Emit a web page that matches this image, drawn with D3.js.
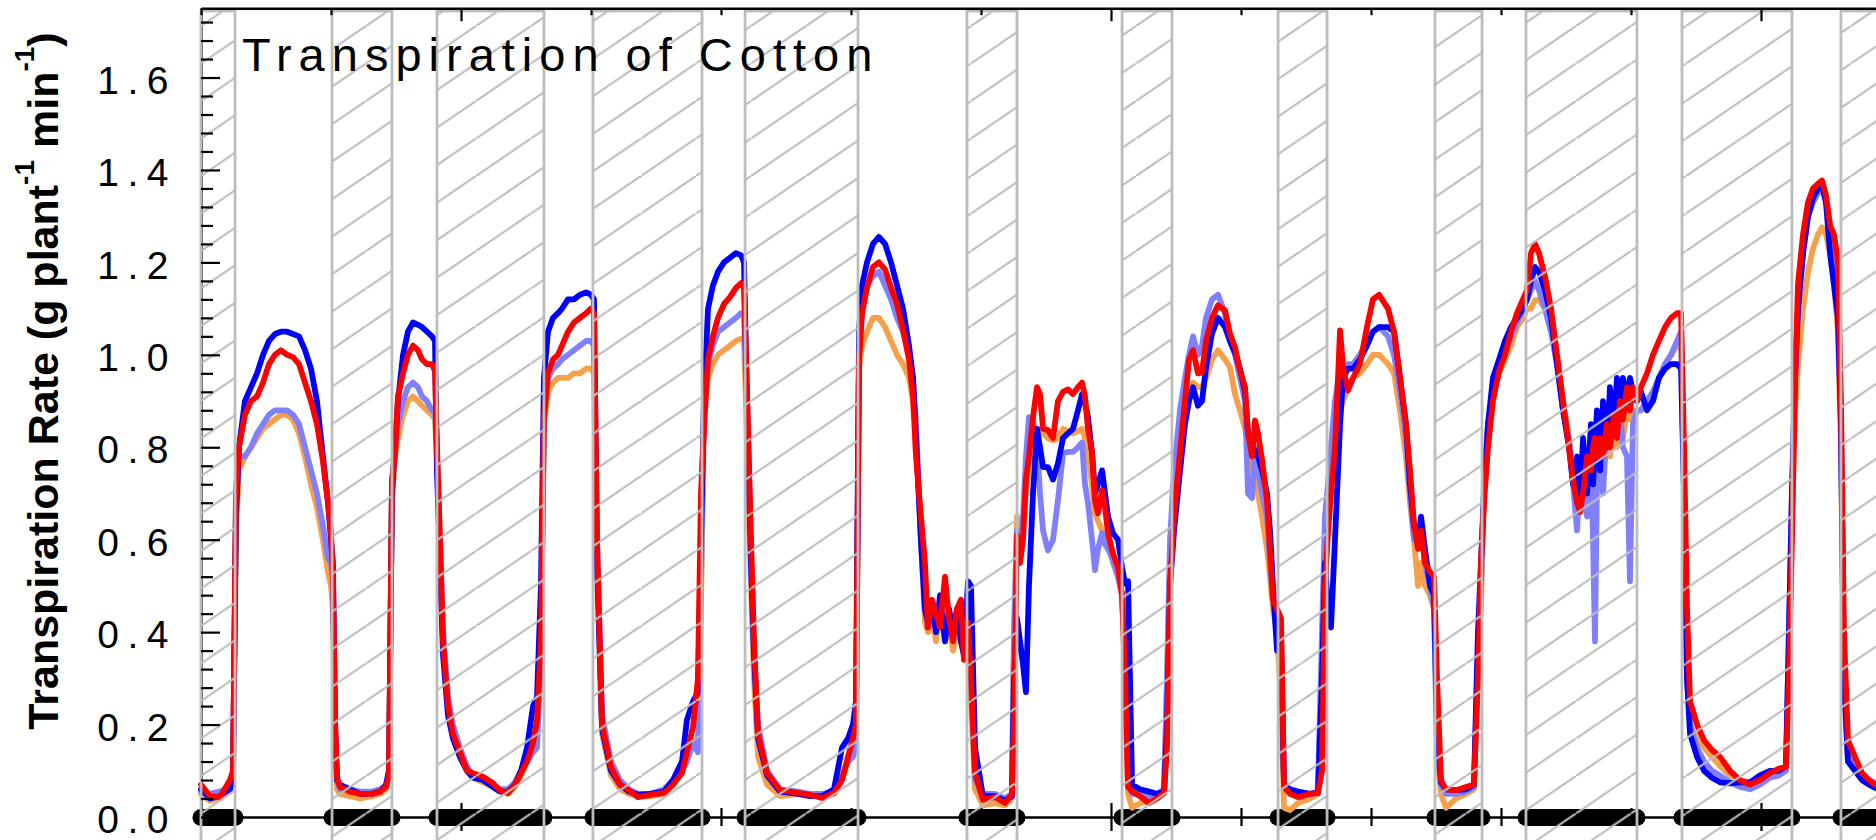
<!DOCTYPE html>
<html>
<head>
<meta charset="utf-8">
<script src="https://cdn.jsdelivr.net/npm/d3@7"></script>
<style>
  html, body { margin: 0; padding: 0; background: #fff; }
  svg { display: block; }
</style>
</head>
<body>
<svg id="chart" width="1876" height="840"></svg>
<script>
// Logger timestamps (day of year, decimal) shared by all four plants
const dayOfYear = [
  148.000,148.069,148.146,148.223,148.246,148.269,
  148.292,148.338,148.385,148.431,148.477,148.523,148.569,148.615,148.662,148.708,148.754,148.800,148.846,148.892,148.938,148.977,149.000,149.015,149.031,149.046,
  149.069,149.146,149.223,149.315,149.377,149.423,149.446,
  149.469,149.492,149.515,149.554,149.592,149.631,149.669,149.700,149.738,149.777,149.800,
  149.815,149.838,149.862,149.900,149.938,149.992,150.046,150.092,150.169,150.246,150.300,150.362,150.415,150.462,150.508,150.554,150.585,150.615,
  150.638,150.669,150.708,150.746,150.777,150.823,150.869,150.915,150.962,151.000,151.023,
  151.046,151.085,151.154,151.223,151.292,151.362,151.454,151.562,151.631,151.700,151.738,151.785,151.823,151.846,
  151.869,151.900,151.938,151.977,152.023,152.069,152.115,152.154,152.177,
  152.192,152.231,152.254,152.285,152.354,152.454,152.592,152.685,152.777,152.869,152.931,152.977,153.015,153.038,
  153.062,153.085,153.123,153.169,153.215,153.262,153.308,153.354,153.400,153.446,153.477,153.500,153.538,153.569,153.592,153.623,153.654,153.685,153.723,153.754,153.785,153.815,153.846,153.869,153.900,153.923,
  153.954,154.015,154.108,154.185,154.238,154.254,
  154.277,154.300,154.323,154.346,154.369,154.400,154.431,154.454,154.477,154.515,154.554,154.592,154.631,154.669,154.708,154.746,154.777,154.800,154.823,154.854,154.877,154.900,154.931,154.954,154.977,155.015,155.054,155.085,155.108,
  155.131,155.162,155.223,155.292,155.354,155.408,155.431,
  155.454,155.485,155.531,155.569,155.600,155.631,155.669,155.700,155.731,155.777,155.823,155.877,155.915,155.954,155.992,156.031,156.054,156.085,156.108,156.131,156.162,156.200,156.223,156.246,156.277,156.308,
  156.331,156.377,156.438,156.531,156.592,156.623,
  156.646,156.669,156.692,156.723,156.762,156.785,156.823,156.862,156.915,156.969,157.015,157.062,157.131,157.177,157.223,157.269,157.300,157.331,157.362,157.385,157.415,157.454,157.485,
  157.508,157.538,157.577,157.654,157.731,157.792,157.823,
  157.846,157.869,157.900,157.938,157.985,158.031,158.077,158.123,158.169,158.200,
  158.231,158.262,158.292,158.338,158.385,158.431,158.477,158.523,158.554,158.585,158.608,158.631,158.662,158.692,158.708,158.723,158.738,158.762,158.785,158.815,158.838,158.869,158.892,158.915,158.938,158.969,158.992,159.015,159.046,
  159.077,159.123,159.169,159.215,159.262,159.308,159.354,159.385,
  159.408,159.431,159.454,159.508,159.562,159.623,159.685,159.762,159.838,159.915,159.992,160.069,160.138,160.192,
  160.215,160.238,160.262,160.285,160.323,160.362,160.400,160.438,160.469,160.500,160.531,160.562,160.592,160.615,
  160.638,160.669,160.723,160.777,160.831,160.900
];

// Transpiration rate, g plant-1 min-1
const plantRed = [
  .07,.045,.043,.08,.10,.70,
  .80,.87,.90,.91,.94,.98,1.00,1.01,1.00,.995,.98,.94,.90,.85,.77,.68,.615,.52,.21,.085,
  .065,.055,.05,.05,.055,.065,.09,
  .73,.78,.91,.96,1.00,1.02,1.01,.99,.98,.98,.965,
  .80,.60,.38,.24,.18,.14,.10,.095,.087,.073,.058,.052,.07,.095,.12,.16,.21,.38,
  .86,.96,.99,1.00,1.02,1.05,1.07,1.08,1.09,1.10,1.09,
  .60,.20,.108,.07,.058,.043,.048,.052,.07,.095,.14,.195,.30,.70,
  .84,.99,1.04,1.08,1.11,1.125,1.145,1.155,1.145,
  1.00,.60,.38,.18,.095,.058,.052,.048,.041,.052,.08,.13,.17,.20,
  .99,1.09,1.145,1.19,1.20,1.185,1.145,1.11,1.055,.99,.91,.78,.65,.55,.41,.47,.44,.41,.52,.43,.38,.45,.47,.34,.42,.30,
  .095,.037,.043,.03,.05,.20,
  .61,.55,.60,.73,.78,.865,.93,.915,.84,.837,.82,.90,.92,.925,.915,.93,.94,.91,.84,.79,.685,.657,.707,.67,.614,.57,.54,.48,.31,
  .065,.055,.045,.03,.04,.052,.15,
  .50,.65,.79,.90,.99,1.01,.96,.962,1.03,1.08,1.107,1.096,1.046,1.016,.966,.93,.83,.78,.858,.83,.772,.685,.577,.47,.45,.43,
  .065,.05,.043,.05,.052,.10,
  .50,.614,.70,.80,1.053,.973,.923,.95,.98,1.06,1.12,1.13,1.10,1.05,.95,.85,.75,.63,.58,.62,.55,.53,.52,
  .30,.08,.06,.058,.065,.07,.30,
  .55,.68,.80,.90,.965,1.00,1.05,1.09,1.12,1.14,
  1.22,1.24,1.22,1.17,1.10,1.00,.90,.80,.73,.68,.66,.70,.78,.75,.80,.82,.78,.82,.78,.85,.80,.87,.82,.90,.86,.93,.88,.93,.90,
  .93,.96,1.00,1.03,1.06,1.08,1.09,1.09,
  .80,.45,.25,.20,.166,.145,.13,.10,.08,.07,.08,.095,.105,.108,
  .30,.60,.95,1.155,1.26,1.33,1.36,1.37,1.377,1.345,1.28,1.26,1.20,.90,
  .40,.166,.13,.095,.08,.065
];

const plantBlue = [
  .06,.04,.045,.06,.09,.65,
  .80,.90,.93,.96,1.00,1.03,1.045,1.05,1.05,1.045,1.04,1.01,.97,.90,.78,.68,.60,.55,.20,.08,
  .07,.06,.05,.05,.055,.07,.10,
  .70,.80,.90,1.00,1.05,1.07,1.065,1.06,1.05,1.04,1.03,
  .75,.55,.35,.22,.17,.13,.10,.085,.08,.065,.055,.055,.07,.10,.15,.24,.26,.50,
  .95,1.05,1.08,1.09,1.10,1.12,1.12,1.13,1.135,1.13,1.12,
  .55,.19,.10,.07,.055,.048,.05,.055,.08,.12,.21,.25,.27,.60,
  .90,1.10,1.15,1.18,1.20,1.21,1.22,1.215,1.20,
  1.00,.55,.35,.17,.09,.055,.05,.045,.045,.06,.15,.17,.20,.25,
  1.05,1.15,1.20,1.24,1.255,1.24,1.20,1.15,1.10,1.02,.95,.82,.60,.45,.42,.46,.40,.48,.38,.45,.40,.45,.38,.35,.51,.50,
  .15,.045,.045,.035,.045,.30,
  .43,.38,.33,.27,.50,.70,.84,.80,.757,.757,.73,.765,.82,.83,.84,.88,.915,.895,.865,.787,.70,.72,.75,.70,.65,.614,.60,.54,.505,
  .51,.07,.06,.055,.05,.055,.20,
  .50,.62,.75,.85,.90,.93,.89,.90,.973,1.046,1.08,1.06,1.03,1.005,.97,.92,.83,.80,.794,.78,.75,.70,.62,.50,.36,.38,
  .07,.06,.055,.05,.052,.30,
  .55,.45,.41,.60,.85,.95,.97,.97,.99,1.02,1.05,1.06,1.06,1.05,.95,.85,.72,.63,.60,.65,.58,.50,.48,
  .20,.075,.06,.058,.06,.07,.40,
  .55,.70,.85,.95,.99,1.03,1.06,1.08,1.10,1.12,
  1.16,1.19,1.18,1.14,1.08,.98,.88,.80,.72,.78,.68,.82,.70,.85,.72,.80,.88,.75,.90,.80,.93,.84,.95,.88,.95,.90,.95,.92,.90,
  .92,.88,.90,.95,.97,.98,.98,.97,
  .70,.30,.18,.13,.10,.085,.075,.073,.075,.075,.09,.10,.10,.11,
  .40,.70,.95,1.10,1.22,1.30,1.34,1.36,1.37,1.33,1.22,1.15,1.08,.85,
  .30,.12,.10,.08,.07,.06
];

const plantLightBlue = [
  .055,.05,.055,.065,.09,.68,
  .78,.78,.80,.83,.85,.87,.88,.88,.88,.87,.85,.80,.75,.70,.63,.56,.55,.50,.20,.08,
  .06,.06,.055,.055,.06,.065,.10,
  .72,.80,.85,.90,.93,.94,.93,.91,.90,.88,.88,
  .80,.60,.40,.26,.20,.15,.11,.09,.08,.07,.06,.06,.075,.10,.12,.14,.15,.35,
  .88,.95,.97,.98,.99,1.00,1.01,1.02,1.03,1.03,1.02,
  .60,.22,.12,.08,.06,.05,.05,.06,.08,.10,.12,.16,.14,.50,
  .90,.98,1.02,1.05,1.06,1.07,1.08,1.09,1.09,
  .95,.55,.35,.20,.10,.06,.055,.05,.05,.055,.09,.12,.13,.15,
  1.00,1.10,1.15,1.17,1.18,1.15,1.12,1.08,1.05,1.00,.95,.85,.60,.45,.42,.45,.40,.46,.39,.44,.40,.44,.40,.38,.40,.30,
  .08,.05,.05,.04,.05,.40,
  .62,.55,.65,.78,.865,.86,.80,.70,.62,.577,.60,.685,.787,.79,.79,.80,.81,.72,.68,.60,.534,.58,.614,.59,.58,.556,.52,.48,.35,
  .08,.05,.05,.045,.05,.06,.30,
  .60,.75,.88,.95,1.0,1.04,1.0,1.02,1.08,1.12,1.13,1.09,1.03,1.0,.95,.90,.70,.69,.80,.75,.70,.65,.55,.47,.42,.36,
  .07,.055,.05,.05,.055,.40,
  .65,.72,.80,.90,.97,.96,.98,.98,1.00,1.03,1.05,1.06,1.04,1.00,.92,.82,.70,.60,.60,.62,.55,.50,.45,
  .15,.07,.05,.05,.055,.065,.35,
  .50,.72,.85,.92,.97,1.00,1.04,1.07,1.10,1.12,
  1.14,1.16,1.14,1.10,1.05,.98,.88,.82,.72,.62,.75,.70,.65,.78,.60,.38,.72,.80,.70,.85,.82,.88,.85,.88,.80,.78,.51,.85,.88,
  .88,.90,.92,.95,.98,1.00,1.03,1.05,
  .70,.30,.20,.15,.12,.10,.09,.075,.065,.06,.07,.085,.09,.10,
  .40,.70,.95,1.10,1.22,1.30,1.33,1.35,1.36,1.33,1.28,1.22,1.10,.85,
  .30,.14,.11,.09,.08,.07
];

const plantOrange = [
  .05,.035,.04,.06,.09,.62,
  .75,.78,.80,.82,.84,.85,.86,.87,.87,.86,.83,.78,.72,.67,.60,.53,.50,.45,.18,.06,
  .05,.045,.04,.045,.05,.06,.09,
  .68,.78,.82,.87,.90,.91,.90,.89,.88,.87,.86,
  .78,.58,.38,.24,.18,.13,.10,.085,.075,.065,.055,.05,.065,.09,.12,.15,.18,.35,
  .85,.92,.94,.95,.95,.95,.96,.96,.97,.97,.96,
  .55,.18,.09,.06,.05,.045,.045,.05,.07,.10,.13,.16,.17,.45,
  .88,.95,.98,1.00,1.01,1.02,1.03,1.035,1.03,
  .90,.50,.30,.13,.07,.045,.05,.05,.045,.05,.08,.12,.14,.15,
  .97,1.02,1.05,1.08,1.08,1.06,1.03,1.00,.98,.95,.90,.82,.60,.42,.40,.43,.38,.45,.38,.42,.36,.40,.38,.35,.38,.25,
  .06,.025,.03,.025,.04,.40,
  .65,.58,.62,.70,.76,.80,.83,.84,.83,.82,.815,.82,.84,.835,.83,.835,.84,.82,.78,.72,.655,.64,.62,.61,.60,.55,.52,.48,.30,
  .05,.02,.03,.035,.04,.05,.30,
  .55,.70,.82,.88,.92,.94,.93,.93,.95,.99,1.01,.99,.973,.915,.88,.84,.815,.76,.73,.70,.65,.58,.52,.45,.40,.25,
  .02,.015,.03,.04,.05,.35,
  .60,.70,.78,.80,.88,.90,.93,.95,.96,.98,1.00,1.00,.98,.96,.88,.78,.68,.60,.50,.55,.50,.48,.45,
  .15,.05,.02,.04,.05,.06,.35,
  .45,.70,.85,.92,.96,.99,1.02,1.06,1.08,1.10,
  1.10,1.118,1.12,1.10,1.05,.98,.90,.82,.75,.70,.70,.72,.75,.78,.74,.76,.74,.80,.78,.82,.78,.84,.80,.86,.82,.88,.86,.88,.88,
  .88,.90,.92,.95,.98,1.00,1.02,1.03,
  .70,.30,.20,.17,.15,.13,.11,.09,.08,.075,.08,.09,.095,.10,
  .35,.65,.88,.98,1.10,1.18,1.23,1.26,1.276,1.26,1.22,1.15,1.05,.80,
  .30,.12,.10,.08,.07,.07
];

// Hatched periods (start, end), day of year
const nightPeriods = [
  [148.000, 148.262], [149.008, 149.469], [149.815, 150.638], [151.015, 151.854],
  [152.185, 153.054], [153.892, 154.277], [155.085, 155.469], [156.285, 156.662],
  [157.492, 157.854], [158.192, 159.046], [159.392, 160.238], [160.615, 161.200]
];

const yTickValues = [0, 0.2, 0.4, 0.6, 0.8, 1.0, 1.2, 1.4, 1.6];
const dayTicks = [148, 149, 150, 151, 152, 153, 154, 155, 156, 157, 158, 159, 160];
const titleText = "Transpiration of Cotton";

// ---- drawing ----
const FONT = "'Liberation Sans', Arial, Helvetica, sans-serif";
const svg = d3.select("#chart");
svg.append("rect").attr("width", 1876).attr("height", 840).attr("fill", "#fff");

const x = d3.scaleLinear().domain([148, 160.9]).range([201, 1878]);
const y = d3.scaleLinear().domain([0, 1.75]).range([817, 8.2]);

[plantRed, plantBlue, plantLightBlue, plantOrange].forEach(s => {
  if (s.length !== dayOfYear.length) console.error("length mismatch", s.length, dayOfYear.length);
});

// diagonal hatch
const hatchH = 37.5, hatchW = 55;
const defs = svg.append("defs");
defs.append("pattern")
  .attr("id", "hatch")
  .attr("patternUnits", "userSpaceOnUse")
  .attr("x", 201).attr("y", -11.5)
  .attr("width", hatchW).attr("height", hatchH)
  .append("path")
  .attr("d", `M0,${hatchH}L${hatchW},0M${-hatchW},${hatchH}L0,0M${hatchW},${hatchH}L${2 * hatchW},0`)
  .attr("stroke", "#bdbdbd").attr("stroke-width", 2.2).attr("fill", "none");

// left spine (sits under the hatched boxes)
const yDomain = svg.append("g").attr("transform", "translate(201,0)")
  .call(d3.axisLeft(y).tickValues([]).tickSizeOuter(0));
yDomain.select(".domain").attr("stroke", "#000").attr("stroke-width", 2.5);

// dark-period bars along the zero line
svg.append("g").selectAll("line").data(nightPeriods).join("line")
  .attr("x1", d => x(d[0])).attr("x2", d => x(d[1]))
  .attr("y1", y(0) + 0.5).attr("y2", y(0) + 0.5)
  .attr("stroke", "#000").attr("stroke-width", 17).attr("stroke-linecap", "round");

// bottom axis line and crossing ticks
const minorDays = dayTicks.filter(d => d % 5 !== 0);
const majorDays = dayTicks.filter(d => d % 5 === 0);
function crossTicks(axisFn, values, size) {
  const g = svg.append("g").attr("transform", `translate(0,${y(0)})`)
    .call(axisFn(x).tickValues(values).tickSize(size).tickFormat(""));
  g.select(".domain").remove();
  g.selectAll(".tick line").attr("stroke", "#000").attr("stroke-width", 2.2);
}
const xBase = svg.append("g").attr("transform", `translate(0,${y(0)})`)
  .call(d3.axisBottom(x).tickValues([]).tickSizeOuter(0));
xBase.select(".domain").attr("stroke", "#000").attr("stroke-width", 2.5);
crossTicks(d3.axisBottom, minorDays, 9);
crossTicks(d3.axisTop, minorDays, 9);
crossTicks(d3.axisBottom, majorDays, 14);
crossTicks(d3.axisTop, majorDays, 14);

// series
const line = d3.line()
  .x((d, i) => x(dayOfYear[i]))
  .y(d => y(d));
const series = [
  { values: plantOrange, color: "#f7a04c" },
  { values: plantLightBlue, color: "#8080ff" },
  { values: plantBlue, color: "#0000ff" },
  { values: plantRed, color: "#ff0000" }
];
svg.append("g").selectAll("path").data(series).join("path")
  .attr("d", d => line(d.values))
  .attr("fill", "none")
  .attr("stroke", d => d.color)
  .attr("stroke-width", 5.8)
  .attr("stroke-linejoin", "round")
  .attr("stroke-linecap", "round");

// hatched boxes
svg.append("g").selectAll("rect").data(nightPeriods).join("rect")
  .attr("x", d => x(d[0]))
  .attr("y", 11)
  .attr("width", d => x(d[1]) - x(d[0]))
  .attr("height", 850)
  .attr("fill", "url(#hatch)")
  .attr("stroke", "#bdbdbd")
  .attr("stroke-width", 2.8);

// top spine with inward ticks
function topTicks(values, size, withDomain) {
  const g = svg.append("g").attr("transform", `translate(0,${y(1.75)})`)
    .call(d3.axisBottom(x).tickValues(values).tickSizeInner(size).tickSizeOuter(0).tickFormat(""));
  if (withDomain) g.select(".domain").attr("stroke", "#000").attr("stroke-width", 2.5);
  else g.select(".domain").remove();
  g.selectAll(".tick line").attr("stroke", "#000").attr("stroke-width", 2.2);
}
topTicks(minorDays, 7, true);
topTicks(majorDays, 13, false);

// y axis ticks (inward) and labels
const yMinor = d3.range(0, 1.7401, 0.04)
  .filter(v => Math.abs(v * 5 - Math.round(v * 5)) > 1e-6);
const yMinorG = svg.append("g").attr("transform", "translate(201,0)")
  .call(d3.axisLeft(y).tickValues(yMinor).tickSizeInner(-12).tickSizeOuter(0).tickFormat(""));
yMinorG.select(".domain").remove();
yMinorG.selectAll(".tick line").attr("stroke", "#000").attr("stroke-width", 2.2);

const yAxisG = svg.append("g").attr("transform", "translate(201,0)")
  .call(d3.axisLeft(y).tickValues(yTickValues).tickSizeInner(-19).tickSizeOuter(0)
    .tickPadding(24).tickFormat(d3.format(".1f")));
yAxisG.select(".domain").remove();
yAxisG.selectAll(".tick line").attr("stroke", "#000").attr("stroke-width", 2.2);
yAxisG.selectAll(".tick text")
  .attr("fill", "#000")
  .attr("font-family", FONT)
  .attr("font-size", 39)
  .attr("letter-spacing", 8.5)
  .attr("dy", "0.4em");

// y axis title
const yTitle = svg.append("text")
  .attr("transform", "translate(58,381) rotate(-90)")
  .attr("text-anchor", "middle")
  .attr("font-family", FONT)
  .attr("font-weight", "bold")
  .attr("font-size", 43)
  .attr("fill", "#000");
yTitle.append("tspan").text("Transpiration Rate (g plant");
yTitle.append("tspan").attr("font-size", 28).attr("dy", -24).text("-1");
yTitle.append("tspan").attr("dy", 24).text(" min");
yTitle.append("tspan").attr("font-size", 28).attr("dy", -24).text("-1");
yTitle.append("tspan").attr("dy", 24).text(")");

// chart title
svg.append("text")
  .attr("x", 242).attr("y", 71)
  .attr("font-family", FONT)
  .attr("font-size", 47)
  .attr("letter-spacing", 7)
  .attr("fill", "#000")
  .text(titleText);
</script>
</body>
</html>
